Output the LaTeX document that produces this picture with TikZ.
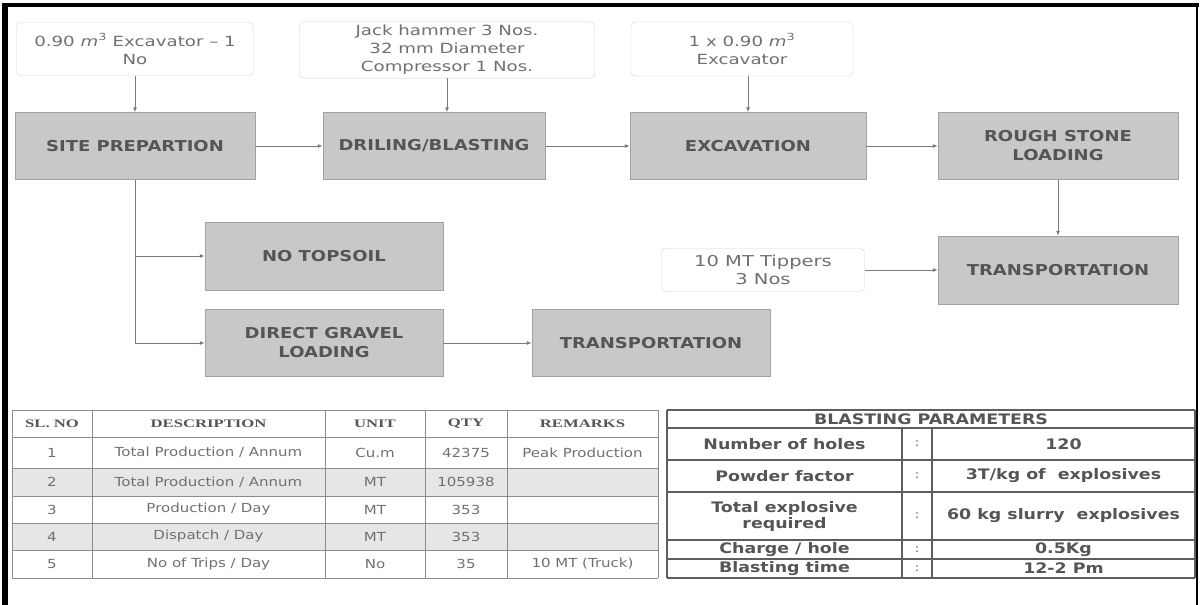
\documentclass[tikz,border=0pt]{standalone}
\usepackage{fontspec}
\usepackage{tikz}
\usetikzlibrary{positioning, arrows.meta}

\newfontfamily\flowfont[FakeStretch=1.2]{DejaVu Sans}
\newfontfamily\kitfont[FakeStretch=1.3]{DejaVu Sans}
\newfontfamily\headfont[FakeStretch=1.45]{Liberation Serif}

\definecolor{stagefill}{HTML}{C8C8C8}
\definecolor{stageline}{HTML}{A2A2A2}
\definecolor{stagetext}{HTML}{555555}
\definecolor{kitline}{HTML}{D2D2D2}
\definecolor{kittext}{HTML}{707070}
\definecolor{flowline}{HTML}{7A7A7A}
\definecolor{tabline}{HTML}{8C8C8C}
\definecolor{rowshade}{HTML}{E6E6E6}
\definecolor{parline}{HTML}{5E5E5E}

\begin{document}
\begin{tikzpicture}[x=1pt, y=-1pt, on grid, >={Latex[length=5pt,width=4pt]},
   stage/.style={draw=stageline, fill=stagefill, minimum width=240pt, minimum height=67pt,
      align=center, text=stagetext, font=\flowfont\bfseries\fontsize{15}{19}\selectfont},
   kit/.style={draw=kitline, fill=white, rounded corners=4pt, align=center, text=kittext,
      font=\kitfont\fontsize{14}{18}\selectfont},
   flow/.style={draw=flowline, line width=1pt, ->},
   tab/.style={draw=tabline, line width=1pt},
   headcell/.style={inner sep=0pt, text=stagetext, font=\headfont\bfseries\fontsize{11.5}{13}\selectfont},
   bodycell/.style={inner sep=0pt, text=kittext, font=\flowfont\fontsize{12.5}{15}\selectfont},
   par/.style={draw=parline, line width=1.3pt},
   parcell/.style={inner sep=0pt, align=center, text=stagetext, font=\flowfont\bfseries\fontsize{14.5}{16}\selectfont}]
   \useasboundingbox (0,0) rectangle (1202,605);

   % Frame
   \draw[line width=6pt] (5,3) -- (5,605);
   \draw[line width=4pt] (3,5) -- (1199,5);
   \draw[line width=2pt] (1197,5) -- (1197,605);

   % Main stages
   \node[stage] (site) at (135,146) {SITE PREPARTION};
   \node[stage, minimum width=222pt] (drill) [right=299pt of site] {DRILING/BLASTING};
   \node[stage, minimum width=236pt] (excav) [right=314pt of drill] {EXCAVATION};
   \node[stage] (rough) [right=310pt of excav] {ROUGH STONE\\LOADING};
   \node[stage, minimum height=68pt] (haulA) [below=124pt of rough] {TRANSPORTATION};

   % Branch stages
   \node[stage, minimum width=238pt, minimum height=68pt] (topsoil) at (324,256) {NO TOPSOIL};
   \node[stage, minimum width=238pt] (gravel) [below=87pt of topsoil] {DIRECT GRAVEL\\LOADING};
   \node[stage, minimum width=238pt] (haulB) [right=327pt of gravel] {TRANSPORTATION};

   % Machinery
   \node[kit, minimum width=237pt, minimum height=53pt] (kitA) [above=97pt of site]
      {0.90 {\itshape m}\textsuperscript{3} Excavator – 1\\No};
   \node[kit, minimum width=295pt, minimum height=56pt] (kitB) at (447,50)
      {Jack hammer 3 Nos.\\32 mm Diameter\\Compressor 1 Nos.};
   \node[kit, minimum width=222pt, minimum height=54pt] (kitC) at (742,49)
      {1 x 0.90 {\itshape m}\textsuperscript{3}\\Excavator};
   \node[kit, minimum width=203pt, minimum height=43pt, font=\kitfont\fontsize{15}{18}\selectfont]
      (tipper) at (763,270) {10 MT Tippers\\3 Nos};

   % Transitions
   \draw[flow] (kitA) -- (site);
   \draw[flow] (kitB.south) -- (kitB.south |- drill.north);
   \draw[flow] (excav.north |- kitC.south) -- (excav.north);
   \path[flow]
    (site) edge (drill)
    (drill) edge (excav)
    (excav) edge (rough)
    (rough) edge (haulA)
    (tipper) edge (haulA)
    (gravel) edge (haulB);
   \coordinate (fork) at (site.south |- gravel.west);
   \draw[draw=flowline, line width=1pt] (site.south) -- (fork);
   \draw[flow] (site.south |- topsoil.west) -- (topsoil.west);
   \draw[flow] (fork) -- (gravel.west);

   % Production table
   \fill[rowshade] (12,468) rectangle (658,496);
   \fill[rowshade] (12,523) rectangle (658,550);
   \foreach \y in {410,437,468,496,523,550,578}
      \draw[tab] (12,\y) -- (658,\y);
   \foreach \x in {12,92,325,425,507,658}
      \draw[tab] (\x,410) -- (\x,578);
   \foreach \x/\t [count=\i] in {52/SL. NO, 208.5/DESCRIPTION, 375/UNIT, 466/QTY, 582.5/REMARKS}
      \node[headcell] (head\i) at (\x,424) {\t};
   \foreach \y/\d/\u/\q/\r [count=\i] in {
      452.5/{Total Production / Annum}/Cu.m/42375/Peak Production,
      482/{Total Production / Annum}/MT/105938/{},
      509.5/{Production / Day}/MT/353/{},
      536.5/{Dispatch / Day}/MT/353/{},
      564/{No of Trips / Day}/No/35/10 MT (Truck)}
   {
      \node[bodycell] (sl\i) at (52,\y) {\i};
      \node[bodycell] (desc\i) at (208.5,\y) {\d};
      \node[bodycell] (unit\i) at (375,\y) {\u};
      \node[bodycell] (qty\i) at (466,\y) {\q};
      \node[bodycell] (rem\i) at (582.5,\y) {\r};
   }

   % Blasting parameters
   \foreach \y in {410,428,460,492,540,559,578}
      \draw[par] (667,\y) -- (1195,\y);
   \draw[par] (667,410) -- (667,578);
   \draw[par] (1195,410) -- (1195,578);
   \foreach \x in {902,932}
      \draw[par] (\x,428) -- (\x,578);
   \node[parcell] (blast) at (931,419) {BLASTING PARAMETERS};
   \foreach \y/\p/\v [count=\i] in {
      444/Number of holes/120,
      476/Powder factor/{3T/kg of~~explosives},
      516/{Total explosive\\required}/{60 kg slurry~~explosives},
      549.5/{Charge / hole}/0.5Kg,
      568.5/Blasting time/12-2 Pm}
   {
      \node[parcell] (param\i) at (784.5,\y) {\p};
      \node[parcell, font=\flowfont\fontsize{11}{13}\selectfont] (colon\i) at (917,\y) {:};
      \node[parcell] (value\i) at (1063.5,\y) {\v};
   }
\end{tikzpicture}
\end{document}
